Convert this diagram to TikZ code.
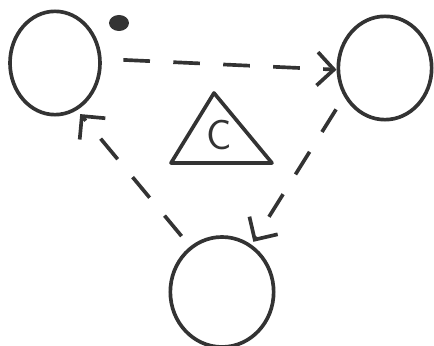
\documentclass[tikz,border=0pt]{standalone}
\usetikzlibrary{arrows.meta,shapes.geometric}

\begin{document}
\begin{tikzpicture}[x=0.03cm, y=-0.03cm, line width=1.1mm, color=black!80,
    blob/.style={ellipse, draw, inner sep=0pt},
    dasharrow/.style={-{Straight Barb[length=5mm, width=10mm]}, dash pattern=on 8mm off 7mm}]

    \useasboundingbox (0,0) rectangle (434,346);

    % circle top left
    \node[blob, minimum width=2.7cm, minimum height=3.1cm] (left) at (55,63) {};

    % circle top right
    \node[blob, minimum width=2.8cm, minimum height=3.1cm] (right) at (385,68) {};

    % circle bottom
    \node[blob, minimum width=3.1cm, minimum height=3.3cm] (bottom) at (222,292) {};

    % dot
    \fill (119,23) ellipse[x radius=10, y radius=8];

    % triangle with C
    \draw[line join=round] (214,93) -- (272,163) -- (171,163) -- cycle;
    \node[font=\sffamily\fontsize{36}{36}\selectfont] (c) at (219,135) {C};

    % left -> right
    \draw[dasharrow, shorten <=0.65cm] (left.5) -- (right.182);

    % right -> bottom
    \draw[dasharrow, shorten <=0.45cm, shorten >=0.1cm] (right.215) -- (bottom.58);

    % bottom -> left
    \draw[dasharrow, shorten <=0.4cm, shorten >=0.15cm] (bottom.125) -- (left.295);

\end{tikzpicture}
\end{document}
